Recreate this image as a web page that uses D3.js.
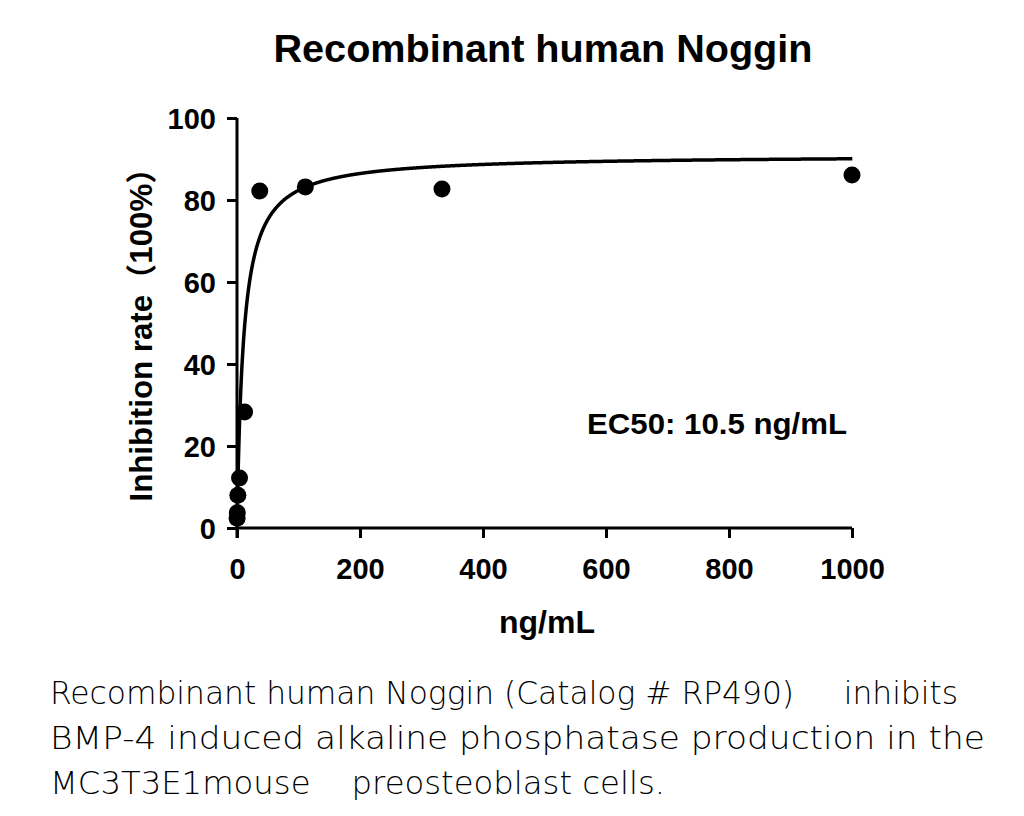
<!DOCTYPE html>
<html><head><meta charset="utf-8">
<script src="https://cdn.jsdelivr.net/npm/d3@7"></script>
<style>body{margin:0;background:#fff}</style>
</head><body>
<svg id="c" width="1024" height="816"></svg>
<script>
const doses = [1000, 333.3, 111.1, 37.0, 12.35, 4.12, 1.37, 0.46, 0.15];
const inhibition = [86.1, 82.7, 83.2, 82.2, 28.3, 12.2, 8.0, 3.7, 2.4];
const xTicks = [0, 200, 400, 600, 800, 1000];
const yTicks = [0, 20, 40, 60, 80, 100];
const fitTop = 91, fitBottom = 0, fitEC50 = 10.5, fitHill = 1;
const captionLines = [
  "Recombinant human Noggin (Catalog # RP490)\u00a0\u00a0\u00a0\u00a0 inhibits",
  "BMP-4 induced alkaline phosphatase production in the",
  "MC3T3E1mouse\u00a0\u00a0\u00a0 preosteoblast cells."
];
const captionWidths = [908, 935, 615];

const svg = d3.select("#c");
const x = d3.scaleLinear().domain([0, 1000]).range([237, 852]);
const y = d3.scaleLinear().domain([0, 100]).range([528, 118]);
const bold = "'Liberation Sans', Arial, sans-serif";

svg.append("text").attr("x", 543).attr("y", 62).attr("text-anchor", "middle")
  .attr("font-family", bold).attr("font-weight", "bold").attr("font-size", 39)
  .attr("textLength", 539).attr("lengthAdjust", "spacingAndGlyphs").text("Recombinant human Noggin");

const xa = svg.append("g").attr("transform", "translate(0,528)")
  .call(d3.axisBottom(x).tickValues(xTicks).tickSize(10).tickSizeOuter(0).tickFormat(d3.format("d")));
const ya = svg.append("g").attr("transform", "translate(237,0)")
  .call(d3.axisLeft(y).tickValues(yTicks).tickSize(10).tickSizeOuter(0).tickFormat(d3.format("d")));
[xa, ya].forEach(a => {
  a.selectAll("path,line").attr("stroke", "#000").attr("stroke-width", 3);
  a.selectAll("text").attr("font-family", bold).attr("font-weight", "bold").attr("font-size", 29).attr("fill", "#000");
});
xa.select("path").attr("d", "M237,0H852");
ya.select("path").attr("d", "M0,118V538");
xa.selectAll("text").attr("dy", null).attr("y", 51);
ya.selectAll("text").attr("x", -21).attr("dy", "0.36em");

const fit = d => fitBottom + (fitTop - fitBottom) * Math.pow(d, fitHill) / (Math.pow(fitEC50, fitHill) + Math.pow(d, fitHill));
const grid = d3.range(0, 1001, 0.5);
svg.append("path").datum(grid)
  .attr("d", d3.line().x(d => x(d)).y(d => y(fit(d))))
  .attr("fill", "none").attr("stroke", "#000").attr("stroke-width", 3.5);

svg.selectAll("circle").data(doses).join("circle")
  .attr("cx", d => x(d)).attr("cy", (d, i) => y(inhibition[i])).attr("r", 8.5).attr("fill", "#000");

svg.append("text").attr("x", 587).attr("y", 434).attr("font-family", bold).attr("font-weight", "bold")
  .attr("font-size", 30).attr("textLength", 260).attr("lengthAdjust", "spacingAndGlyphs").text("EC50: 10.5 ng/mL");

svg.append("text").attr("x", 547).attr("y", 633).attr("text-anchor", "middle").attr("font-family", bold)
  .attr("font-weight", "bold").attr("font-size", 32).text("ng/mL");

svg.append("text").attr("transform", "translate(152,327) rotate(-90)").attr("text-anchor", "middle")
  .attr("font-family", bold + ", 'Noto Sans CJK SC'").attr("font-weight", "bold").attr("font-size", 31)
  .attr("textLength", 349).attr("lengthAdjust", "spacingAndGlyphs")
  .text("Inhibition rate\uff08100%\uff09");

svg.append("g").selectAll("text").data(captionLines).join("text")
  .attr("x", 50).attr("y", (d, i) => 704 + i * 45)
  .attr("font-family", "'DejaVu Sans', sans-serif").attr("font-weight", 200).attr("font-size", 32).attr("fill", "#000")
  .attr("textLength", (d, i) => captionWidths[i]).attr("lengthAdjust", "spacingAndGlyphs")
  .text(d => d);
</script>
</body></html>
